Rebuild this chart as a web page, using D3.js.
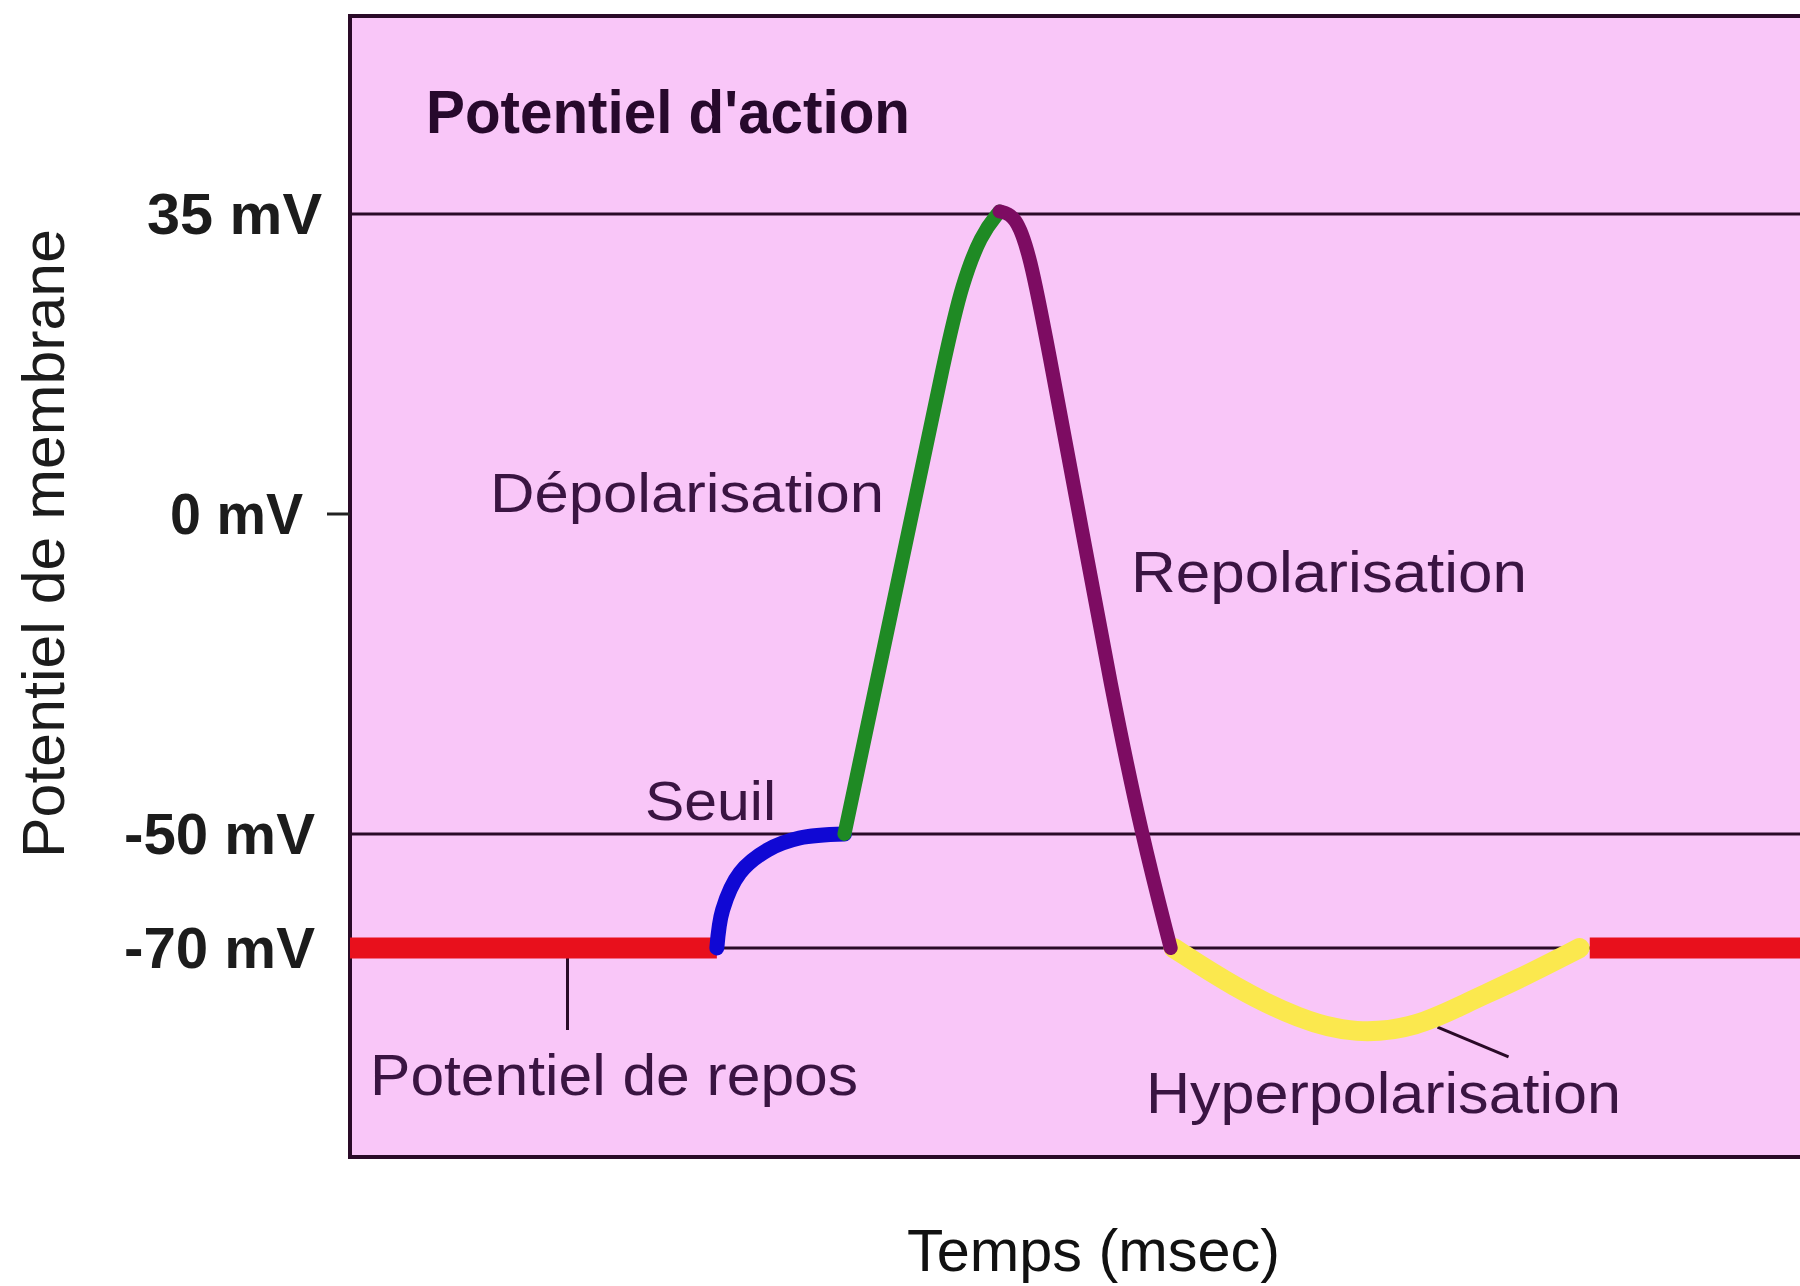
<!DOCTYPE html>
<html>
<head>
<meta charset="utf-8">
<script src="https://cdn.jsdelivr.net/npm/d3@7"></script>
<style>
  body { margin: 0; background: #fff; }
  text { font-family: "Liberation Sans", Arial, Helvetica, sans-serif; }
</style>
</head>
<body>
<div class="chart"></div>
<script>
var width = 1800;
var height = 1286;

// membrane potential, [time (ms), mV] - schematic trace
var repos1 = [[0, -70], [2.53, -70]];
var seuil = [[2.53, -70], [2.57, -63.3], [2.69, -56.8], [2.88, -52.8], [3.10, -50.7], [3.41, -50]];
var depolarisation = [[3.41, -50], [3.81, -7.2], [4.12, 19.8], [4.22, 26.7], [4.35, 32.6], [4.48, 35.3]];
var repolarisation = [[4.48, 35.3], [4.59, 34.9], [4.69, 30.2], [4.81, 19.8], [5.03, -0.2], [5.25, -27.3], [5.46, -50.2], [5.66, -70]];
var hyperpolarisation = [[5.68, -70], [6.09, -76.8], [6.55, -82.6], [6.94, -85.2], [7.36, -83.9], [7.70, -79.6], [8.05, -75.6], [8.48, -70]];
var repos2 = [[8.55, -70], [10.3, -70]];

var yTicks = [35, 0, -50, -70];
var yTickLabels = ["35 mV", "0 mV", "-50 mV", "-70 mV"];
var guideLevels = [35, -50, -70];

var phaseNames = ["Dépolarisation", "Repolarisation", "Seuil", "Potentiel de repos", "Hyperpolarisation"];

var svg = d3.select(".chart").append("svg")
    .attr("width", width)
    .attr("height", height);

// the y axis of the original is not linear, so a piecewise scale
var x = d3.scaleLinear().domain([0, 10]).range([350, 1800]);
var y = d3.scaleLinear()
    .domain([-106.7, -70, -50, 0, 35, 58.1])
    .range([1157, 948, 834, 514, 214, 16]);

function lineWith(curve) {
  return d3.line()
    .x(function(d) { return x(d[0]); })
    .y(function(d) { return y(d[1]); })
    .curve(curve);
}

// plot box
svg.append("rect")
    .attr("x", x(0))
    .attr("y", y(58.1))
    .attr("width", x(10.3) - x(0))
    .attr("height", y(-106.7) - y(58.1))
    .attr("fill", "#f9c6f8")
    .attr("stroke", "#2a0a28")
    .attr("stroke-width", 4);

svg.append("g")
    .selectAll("line")
    .data(guideLevels)
    .enter().append("line")
      .attr("x1", x(0))
      .attr("x2", x(10.3))
      .attr("y1", function(d) { return y(d); })
      .attr("y2", function(d) { return y(d); })
      .attr("stroke", "#2a0a28")
      .attr("stroke-width", 3);

// tick only at 0 mV (the others sit on a guide line)
svg.append("line")
    .attr("x1", x(0) - 23).attr("x2", x(0))
    .attr("y1", y(0)).attr("y2", y(0))
    .attr("stroke", "#222").attr("stroke-width", 3);

// tick label widths in the picture
var tickLen = {"35 mV": 175, "0 mV": 133, "-50 mV": 191, "-70 mV": 191};
var tickRight = {"35 mV": 322, "0 mV": 303, "-50 mV": 315, "-70 mV": 315};
svg.append("g")
    .selectAll("text")
    .data(yTicks)
    .enter().append("text")
      .attr("x", function(d, i) { var l = yTickLabels[i]; return tickRight[l] - tickLen[l]; })
      .attr("y", function(d) { return y(d) + 20; })
      .attr("textLength", function(d, i) { return tickLen[yTickLabels[i]]; })
      .attr("lengthAdjust", "spacingAndGlyphs")
      .attr("font-size", 58)
      .attr("font-weight", "bold")
      .attr("fill", "#1c1c1c")
      .text(function(d, i) { return yTickLabels[i]; });

// pointer lines
svg.append("line")
    .attr("x1", x(1.5)).attr("x2", x(1.5))
    .attr("y1", y(-70)).attr("y2", y(-84.4))
    .attr("stroke", "#2a0a28").attr("stroke-width", 3);
svg.append("line")
    .attr("x1", x(7.5)).attr("x2", x(7.99))
    .attr("y1", y(-83.9)).attr("y2", y(-89.1))
    .attr("stroke", "#2a0a28").attr("stroke-width", 3);

// trace, one path per phase
var phases = [
  {d: repos1, color: "#e8101c", w: 21, cap: "butt", curve: d3.curveLinear},
  {d: repos2, color: "#e8101c", w: 21, cap: "butt", curve: d3.curveLinear},
  {d: hyperpolarisation, color: "#fbe84e", w: 20, cap: "round", curve: d3.curveBasis},
  {d: seuil, color: "#1008d4", w: 15, cap: "round", curve: d3.curveCatmullRom},
  {d: depolarisation, color: "#1f8a24", w: 14, cap: "round", curve: d3.curveBasis},
  {d: repolarisation, color: "#7d0c62", w: 14, cap: "round", curve: d3.curveBasis}
];
svg.append("g")
    .selectAll("path")
    .data(phases)
    .enter().append("path")
      .attr("d", function(p) { return lineWith(p.curve)(p.d); })
      .attr("fill", "none")
      .attr("stroke", function(p) { return p.color; })
      .attr("stroke-width", function(p) { return p.w; })
      .attr("stroke-linecap", function(p) { return p.cap; })
      .attr("stroke-linejoin", "round");

// phase labels: [x, baseline, width, size]
var phasePos = [
  [490, 512, 394, 56],
  [1131, 592, 396, 57],
  [645, 820, 131, 56],
  [370, 1095, 488, 58],
  [1146, 1113, 475, 58]
];
svg.append("g")
    .selectAll("text")
    .data(phaseNames)
    .enter().append("text")
      .attr("x", function(d, i) { return phasePos[i][0]; })
      .attr("y", function(d, i) { return phasePos[i][1]; })
      .attr("textLength", function(d, i) { return phasePos[i][2]; })
      .attr("lengthAdjust", "spacingAndGlyphs")
      .attr("font-size", function(d, i) { return phasePos[i][3]; })
      .attr("fill", "#3a1442")
      .text(function(d) { return d; });

// title
svg.append("text")
    .attr("x", 426).attr("y", 133)
    .attr("textLength", 484)
    .attr("lengthAdjust", "spacingAndGlyphs")
    .attr("font-size", 62)
    .attr("font-weight", "bold")
    .attr("fill", "#27092c")
    .text("Potentiel d'action");

// axis titles
svg.append("text")
    .attr("transform", "translate(64,544) rotate(-90)")
    .attr("x", -314).attr("y", 0)
    .attr("textLength", 629)
    .attr("lengthAdjust", "spacingAndGlyphs")
    .attr("font-size", 60)
    .attr("fill", "#1c1c1c")
    .text("Potentiel de membrane");

svg.append("text")
    .attr("x", 907).attr("y", 1271)
    .attr("textLength", 373)
    .attr("lengthAdjust", "spacingAndGlyphs")
    .attr("font-size", 59)
    .attr("fill", "#111")
    .text("Temps (msec)");
</script>
</body>
</html>
